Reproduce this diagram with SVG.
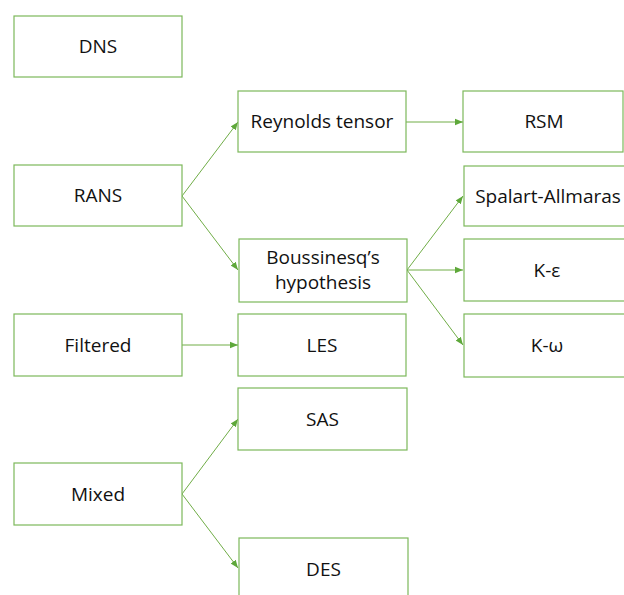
<svg xmlns="http://www.w3.org/2000/svg" width="624" height="595" viewBox="0 0 624 595">
<defs>
<style>
.box{fill:#ffffff;stroke:#7CB85A;stroke-width:1.2}
.lbl{font-family:"Open Sans","Liberation Sans",sans-serif;font-size:19px;fill:#111111;text-anchor:middle}
.con{stroke:#70AD47;stroke-width:1;fill:none;marker-end:url(#ah)}
</style>
<marker id="ah" viewBox="0 0 10 10" refX="10" refY="5" markerWidth="8" markerHeight="8" markerUnits="userSpaceOnUse" orient="auto">
<path d="M0,1 L10,5 L0,9 z" fill="#5EA83A"/>
</marker>
</defs>
<rect width="624" height="595" fill="#ffffff"/>
<g id="connectors">
<line class="con" x1="182" y1="196" x2="238" y2="122"/>
<line class="con" x1="182" y1="196" x2="238" y2="270"/>
<line class="con" x1="406" y1="122" x2="463" y2="122"/>
<line class="con" x1="407" y1="270" x2="463" y2="196"/>
<line class="con" x1="407" y1="270" x2="463" y2="270"/>
<line class="con" x1="407" y1="270" x2="463" y2="345"/>
<line class="con" x1="182" y1="345" x2="238" y2="345"/>
<line class="con" x1="182" y1="494" x2="238" y2="419"/>
<line class="con" x1="182" y1="494" x2="238" y2="568"/>
</g>
<g id="dns"><rect class="box" x="14" y="16" width="168" height="61"/><text class="lbl" x="98" y="53">DNS</text></g>
<g id="rans"><rect class="box" x="14" y="165" width="168" height="61"/><text class="lbl" x="98" y="202">RANS</text></g>
<g id="filtered"><rect class="box" x="14" y="314" width="168" height="62"/><text class="lbl" x="98" y="352">Filtered</text></g>
<g id="mixed"><rect class="box" x="14" y="463" width="168" height="62"/><text class="lbl" x="98" y="501">Mixed</text></g>
<g id="reynolds"><rect class="box" x="238" y="91" width="168" height="61"/><text class="lbl" x="322" y="128">Reynolds tensor</text></g>
<g id="boussinesq"><rect class="box" x="239" y="239" width="168" height="63"/><text class="lbl" x="323" y="264">Boussinesq’s</text><text class="lbl" x="323" y="289">hypothesis</text></g>
<g id="les"><rect class="box" x="238" y="314" width="168" height="62"/><text class="lbl" x="322" y="352">LES</text></g>
<g id="sas"><rect class="box" x="238" y="388" width="169" height="62"/><text class="lbl" x="322.5" y="426">SAS</text></g>
<g id="des"><rect class="box" x="239" y="538" width="169" height="62"/><text class="lbl" x="323.5" y="576">DES</text></g>
<g id="rsm"><rect class="box" x="463" y="91" width="160" height="61"/><text class="lbl" x="544" y="128">RSM</text></g>
<g id="spalart"><rect class="box" x="464" y="166" width="168" height="60"/><text class="lbl" x="548" y="203">Spalart-Allmaras</text></g>
<g id="keps"><rect class="box" x="464" y="239" width="168" height="62"/><text class="lbl" x="547" y="277">K-ε</text></g>
<g id="komega"><rect class="box" x="464" y="314" width="168" height="63"/><text class="lbl" x="547" y="352">K-ω</text></g>
</svg>
